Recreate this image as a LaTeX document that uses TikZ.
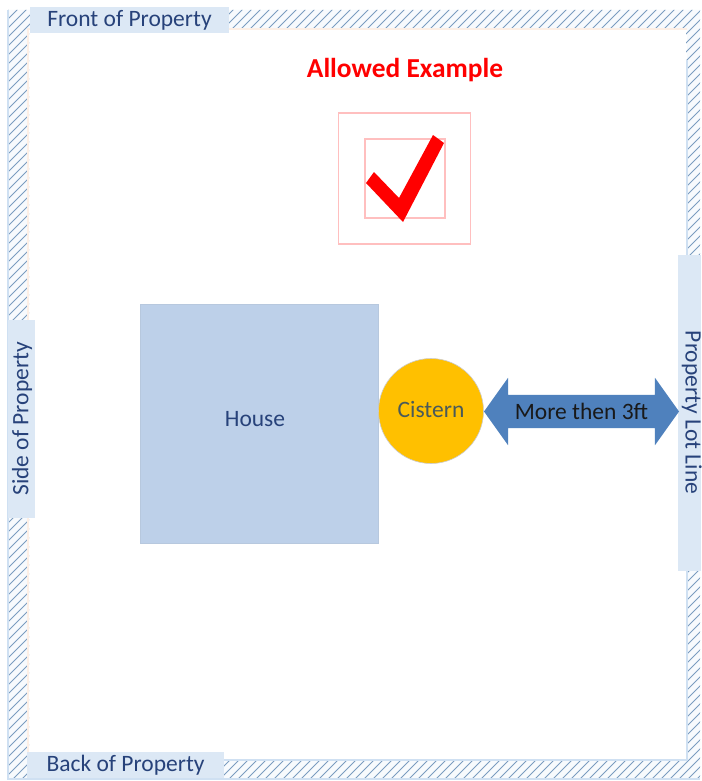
\documentclass[tikz,border=0pt]{standalone}
\usepackage{fontspec}
\setmainfont{Carlito}
\usetikzlibrary{shapes.arrows}
\definecolor{labelfill}{HTML}{DCE8F5}
\definecolor{labeltext}{HTML}{27427A}
\definecolor{housefill}{HTML}{BDD0E9}
\definecolor{bandfill}{HTML}{F7FAFD}
\definecolor{hatchline}{HTML}{7A9CC0}
\definecolor{bandedge}{HTML}{CFE0F2}
\definecolor{inneredge}{HTML}{FDEFE5}
\definecolor{arrowfill}{HTML}{4F81BD}
\definecolor{checkbox}{HTML}{FFBFBF}
\definecolor{cisternfill}{HTML}{FFC000}
\definecolor{cisterntext}{HTML}{4A5A5A}
\tikzset{
  plabel/.style={fill=labelfill,text=labeltext,inner sep=0pt,font=\fontsize{23.5}{26}\selectfont},
  lowered/.style={text height=17.5pt,text depth=4pt},
  checkframe/.style={draw=checkbox,line width=1.2pt},
}
\begin{document}
\begin{tikzpicture}[x=1pt,y=-1pt]
\useasboundingbox (0,0) rectangle (701,781);
\fill[white] (0,0) rectangle (701,781);
% hatched property band
\fill[bandfill,even odd rule] (8,10) rectangle (700,779) (28,29) rectangle (687,760);
\begin{scope}[even odd rule]
  \clip (8,10) rectangle (700,779) (29,30) rectangle (686,759);
  \foreach \k in {0,9,...,1500} {
    \draw[hatchline,line width=1pt] (\k,0) -- (\k-790,790);
  }
\end{scope}
\draw[bandedge,line width=2pt] (8,10) -- (8,779) -- (700,779);
\draw[bandedge,line width=2pt] (687,60) -- (687,760) -- (28,760);
\draw[inneredge,line width=2.5pt] (28,760) -- (28,29) -- (687,29);
% labels on the band
\node[plabel,lowered,minimum width=199,minimum height=26] (front) at (129.5,20) {Front of Property};
\node[plabel,lowered,minimum width=197,minimum height=26] (back) at (125.5,765) {Back of Property};
\node[plabel,lowered,minimum width=198,minimum height=27,rotate=90] (side) at (21.5,419) {Side of Property};
\node[plabel,minimum width=316,minimum height=23,rotate=-90] (lot) at (689.5,412.5) {\smash{\raisebox{-4pt}{Property Lot Line}}};
% title and check mark
\node[text=red,font=\fontsize{27.4}{30}\selectfont\bfseries,inner sep=0pt] (title) at (405,70.5) {Allowed Example};
\node[checkframe,minimum width=132,minimum height=131,inner sep=0pt] (outerbox) at (404.5,178.5) {};
\node[checkframe,minimum width=80,minimum height=79,inner sep=0pt] (innerbox) at (405,178.5) {};
\fill[red] (433,135) -- (444,143) -- (403,222) -- (366,183) -- (374,172) -- (399,198) -- cycle;
% house, cistern, arrow
\node[fill=housefill,draw=housefill!90!gray,line width=.5pt,minimum width=238,minimum height=238.5,inner sep=0pt] (house) at (259.25,423.5) {};
\node[text=labeltext,font=\fontsize{23.5}{26}\selectfont,inner sep=0pt] (houselabel) at (255,419) {House};
\node[circle,fill=cisternfill,draw=gray!40,line width=.6pt,minimum size=105,inner sep=0pt,
      text height=15pt,text depth=2pt,
      text=cisterntext,font=\fontsize{23.5}{26}\selectfont] (cistern) at (431,411) {Cistern};
\node[double arrow,fill=arrowfill,minimum height=195,minimum width=67,inner xsep=0pt,inner ysep=4.5pt,
      text height=20pt,text depth=4pt,
      double arrow head extend=17,double arrow tip angle=109,anchor=center,
      text=black!90,font=\fontsize{23.5}{26}\selectfont] (gap) at (581.5,411.5) {More then 3ft};
\end{tikzpicture}
\end{document}
